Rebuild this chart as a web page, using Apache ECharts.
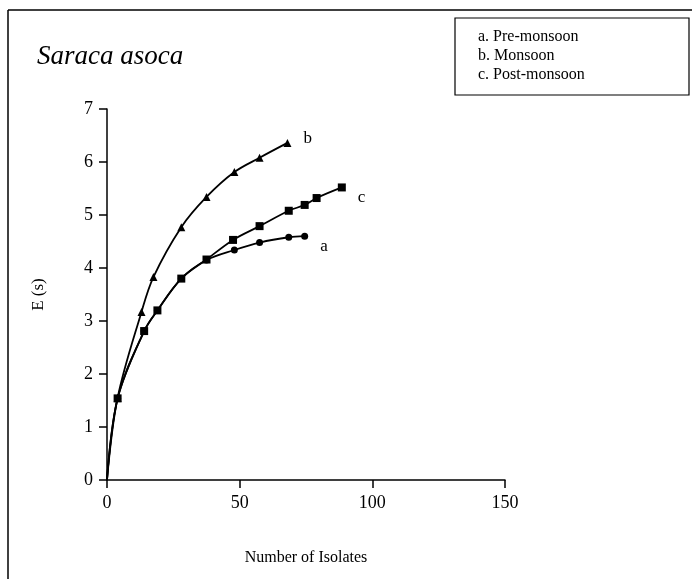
<!DOCTYPE html>
<html>
<head>
<meta charset="utf-8">
<script src="https://cdn.jsdelivr.net/npm/echarts@6/dist/echarts.min.js"></script>
<style>
html,body{margin:0;padding:0;background:#fff;}
#chart{width:692px;height:579px;}
</style>
</head>
<body>
<div id="chart"></div>
<script>
// Data
const titleText = 'Saraca asoca';
const xTicks = [0, 50, 100, 150];
const yTicks = [0, 1, 2, 3, 4, 5, 6, 7];
const legendLines = ['a. Pre-monsoon', 'b. Monsoon', 'c. Post-monsoon'];

const preX  = [0, 4, 14, 19, 28, 37.5, 48, 57.5, 68.5, 74.5];
const preY  = [0, 1.54, 2.81, 3.2, 3.8, 4.15, 4.34, 4.48, 4.58, 4.6];

const monX  = [0, 4, 13, 17.5, 28, 37.5, 48, 57.5, 68];
const monY  = [0, 1.55, 3.17, 3.83, 4.77, 5.34, 5.81, 6.08, 6.36];

const postX = [0, 4, 14, 19, 28, 37.5, 47.5, 57.5, 68.5, 74.5, 79, 88.5];
const postY = [0, 1.54, 2.81, 3.2, 3.8, 4.16, 4.53, 4.79, 5.08, 5.19, 5.32, 5.52];

const seriesNames = ['a', 'b', 'c'];

function build(xs, ys, tag, off) {
  return xs.map((x, i) => {
    const item = { value: [x, ys[i]] };
    if (i === 0) item.symbol = 'none';
    if (i === xs.length - 1) {
      item.label = { show: true, position: 'right', distance: 12, offset: off, formatter: tag,
        color: '#000', fontFamily: 'Liberation Serif', fontSize: 17 };
    }
    return item;
  });
}

const serif = 'Liberation Serif';
const chart = echarts.init(document.getElementById('chart'));
chart.setOption({
  backgroundColor: '#fff',
  animation: false,
  grid: { left: 107, right: 187, top: 109, bottom: 99 },
  xAxis: {
    type: 'value', min: 0, max: 150, interval: 50,
    name: 'Number of Isolates', nameLocation: 'middle', nameGap: 70,
    nameTextStyle: { color: '#000', fontFamily: serif, fontSize: 16 },
    axisLine: { show: true, onZero: false, lineStyle: { color: '#000', width: 1.5 } },
    axisTick: { show: true, length: 8, lineStyle: { color: '#000', width: 1.5 } },
    axisLabel: { color: '#000', fontFamily: serif, fontSize: 18, margin: 14,
      formatter: v => xTicks.includes(v) ? String(v) : '' },
    splitLine: { show: false }
  },
  yAxis: {
    type: 'value', min: 0, max: 7, interval: 1,
    name: 'E (s)', nameLocation: 'middle', nameGap: 60,
    nameTextStyle: { color: '#000', fontFamily: serif, fontSize: 17 },
    axisLine: { show: true, onZero: false, lineStyle: { color: '#000', width: 1.5 } },
    axisTick: { show: true, length: 8, lineStyle: { color: '#000', width: 1.5 } },
    axisLabel: { color: '#000', fontFamily: serif, fontSize: 18, margin: 14,
      formatter: v => yTicks.includes(v) ? String(v) : '' },
    splitLine: { show: false }
  },
  title: {
    text: titleText, left: 32, top: 38,
    textStyle: { fontFamily: serif, fontStyle: 'italic', fontWeight: 'normal', fontSize: 27, color: '#000' }
  },
  graphic: [
    { type: 'line', shape: { x1: 8, y1: 10, x2: 692, y2: 10 }, style: { stroke: '#000', lineWidth: 1.5 } },
    { type: 'line', shape: { x1: 8, y1: 10, x2: 8, y2: 579 }, style: { stroke: '#000', lineWidth: 1.5 } },
    { type: 'rect', shape: { x: 455, y: 18, width: 234, height: 77 }, style: { fill: '#fff', stroke: '#000', lineWidth: 1.2 } },
    { type: 'text', left: 478, top: 29, style: { text: legendLines[0], font: '16px "Liberation Serif"', fill: '#000' } },
    { type: 'text', left: 478, top: 48, style: { text: legendLines[1], font: '16px "Liberation Serif"', fill: '#000' } },
    { type: 'text', left: 478, top: 67, style: { text: legendLines[2], font: '16px "Liberation Serif"', fill: '#000' } }
  ],
  series: [
    { name: seriesNames[0], type: 'line', smooth: 0.35, data: build(preX, preY, 'a', [0, 10]),
      symbol: 'circle', symbolSize: 7, lineStyle: { color: '#000', width: 1.8 }, itemStyle: { color: '#000' } },
    { name: seriesNames[1], type: 'line', smooth: 0.35, data: build(monX, monY, 'b', [0, -4]),
      symbol: 'triangle', symbolSize: 8, lineStyle: { color: '#000', width: 1.8 }, itemStyle: { color: '#000' } },
    { name: seriesNames[2], type: 'line', smooth: 0.35, data: build(postX, postY, 'c', [0, 10]),
      symbol: 'rect', symbolSize: 8, lineStyle: { color: '#000', width: 1.8 }, itemStyle: { color: '#000' } }
  ]
});
</script>
</body>
</html>
